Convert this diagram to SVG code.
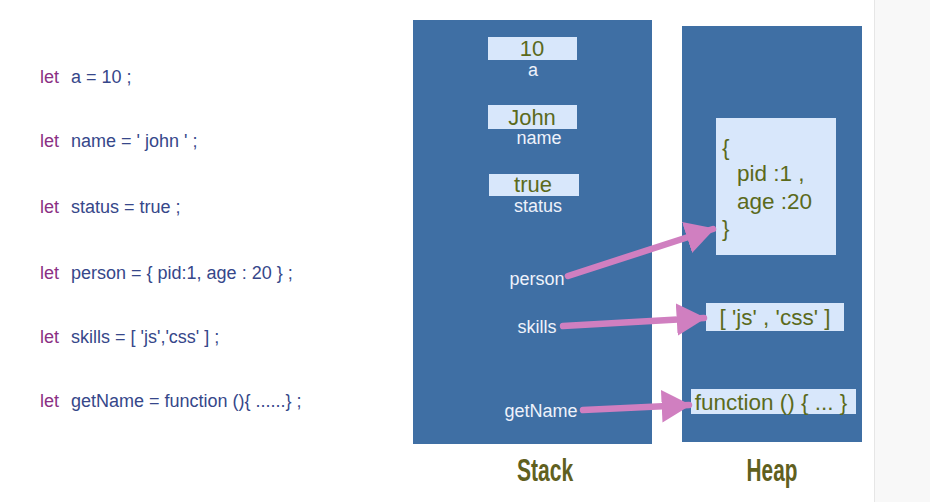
<svg xmlns="http://www.w3.org/2000/svg" width="930" height="502" viewBox="0 0 930 502">
<defs>
<style>
.code{font-family:"Liberation Sans",Arial,sans-serif;font-size:18px;fill:#36478a}
.kw{fill:#8b2f84}
.panel{fill:#3f6fa4}
.box{fill:#d8e7fb}
.val{font-family:"Liberation Sans",Arial,sans-serif;font-size:22px;fill:#5b6a1c;text-anchor:middle}
.hval{font-family:"Liberation Sans",Arial,sans-serif;font-size:22.5px;fill:#5b6a1c}
.lbl{font-family:"Liberation Sans",Arial,sans-serif;font-size:18px;fill:#eef2fb;text-anchor:middle}
.title{font-family:"Liberation Sans",Arial,sans-serif;font-weight:bold;font-size:31px;fill:#60601e;text-anchor:middle}
.arr{stroke:#d07fc0;stroke-width:6.5;fill:none;stroke-linecap:round;marker-end:url(#ah)}
</style>
<marker id="ah" markerWidth="5" markerHeight="5" refX="4.2" refY="2.5" orient="auto" markerUnits="strokeWidth">
<path d="M0,0 L4.5,2.5 L0,5 Z" fill="#d07fc0"/>
</marker>
</defs>
<rect width="930" height="502" fill="#ffffff"/>
<rect x="875" y="0" width="55" height="502" fill="#f8f8f8"/>
<line x1="874.5" y1="0" x2="874.5" y2="502" stroke="#e6e6e6" stroke-width="1"/>

<g id="code">
<text class="code" y="83"><tspan class="kw" x="40">let</tspan><tspan x="71">a = 10 ;</tspan></text>
<text class="code" y="147"><tspan class="kw" x="40">let</tspan><tspan x="71">name = ' john ' ;</tspan></text>
<text class="code" y="213"><tspan class="kw" x="40">let</tspan><tspan x="71">status = true ;</tspan></text>
<text class="code" y="279"><tspan class="kw" x="40">let</tspan><tspan x="71">person = { pid:1, age : 20 } ;</tspan></text>
<text class="code" y="343"><tspan class="kw" x="40">let</tspan><tspan x="71">skills = [ 'js','css' ] ;</tspan></text>
<text class="code" y="407"><tspan class="kw" x="40">let</tspan><tspan x="71">getName = function (){ ......} ;</tspan></text>
</g>

<g id="stack">
<rect class="panel" x="413" y="20" width="239" height="424"/>
<text class="title" transform="translate(545 481) scale(0.68 1)">Stack</text>
</g>
<g id="heap">
<rect class="panel" x="682" y="26" width="180" height="416"/>
<text class="title" transform="translate(772 481) scale(0.67 1)">Heap</text>
</g>

<g id="var-a">
<rect class="box" x="488" y="37" width="89" height="23"/>
<text class="val" x="532" y="56">10</text>
<text class="lbl" x="533" y="76">a</text>
</g>
<g id="var-name">
<rect class="box" x="488" y="105" width="89" height="24"/>
<text class="val" x="532" y="125">John</text>
<text class="lbl" x="539" y="144">name</text>
</g>
<g id="var-status">
<rect class="box" x="489" y="174" width="90" height="22"/>
<text class="val" x="533" y="192">true</text>
<text class="lbl" x="538" y="212">status</text>
</g>
<g id="var-person">
<text class="lbl" x="537" y="285">person</text>
</g>
<g id="var-skills">
<text class="lbl" x="537" y="333">skills</text>
</g>
<g id="var-getName">
<text class="lbl" x="541" y="417">getName</text>
</g>

<g id="heap-object">
<rect class="box" x="716" y="118" width="120" height="137"/>
<text class="hval" x="722" y="155">{</text>
<text class="hval" x="737" y="181">pid :1 ,</text>
<text class="hval" x="737" y="209">age :20</text>
<text class="hval" x="722" y="236">}</text>
</g>
<g id="heap-array">
<rect class="box" x="706" y="303" width="138" height="28"/>
<text class="hval" x="775" y="325" text-anchor="middle">[ 'js' , 'css' ]</text>
</g>
<g id="heap-function">
<rect class="box" x="691" y="389" width="165" height="25"/>
<text class="hval" x="771" y="410" text-anchor="middle">function () { ... }</text>
</g>

<g id="connectors">
<line class="arr" x1="568" y1="276" x2="713" y2="229"/>
<line class="arr" x1="563" y1="326" x2="704" y2="318"/>
<line class="arr" x1="583" y1="410" x2="689" y2="405"/>
</g>
</svg>
